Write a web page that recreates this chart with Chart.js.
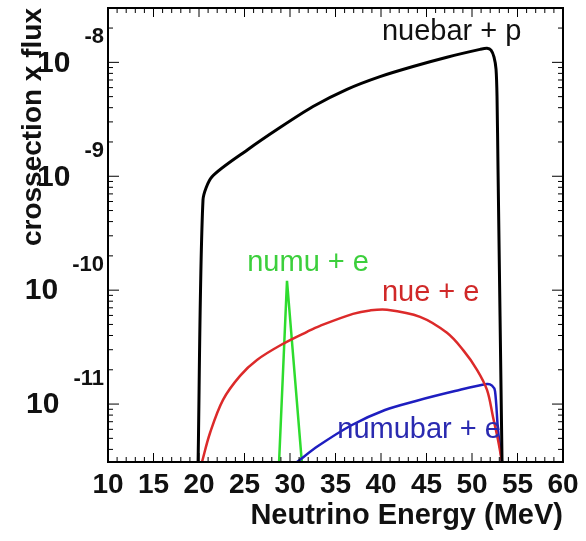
<!DOCTYPE html>
<html>
<head>
<meta charset="utf-8">
<script src="https://cdn.jsdelivr.net/npm/chart.js@4"></script>
<style>
  html, body { margin: 0; padding: 0; background: #fff; }
  #wrap { width: 586px; height: 541px; }
</style>
</head>
<body>
<div id="wrap"><canvas id="chart"></canvas></div>
<script>
// energy (MeV) and crossection x flux
const nuebarE    = [19.9, 20.44, 21.43, 25.38, 28.9, 32.53, 36.26, 39.89, 43.52, 47.25, 50.88, 51.65, 52.09, 52.42, 52.64, 52.75, 52.86, 53.3];
const nuebarFlux = [3.1e-12, 6.2e-10, 9.9e-10, 1.72e-9, 2.68e-9, 4.1e-9, 5.8e-9, 7.5e-9, 9.2e-9, 1.11e-8, 1.30e-8, 1.33e-8, 1.28e-8, 1.11e-8, 8.7e-9, 5.0e-9, 1.15e-9, 3.1e-12];

const nueE    = [20.33, 21.21, 22.64, 24.51, 26.37, 29.23, 31.87, 33.3, 36.92, 38.79, 40.66, 44.29, 47.25, 49.01, 50.55, 51.65, 52.31, 52.86, 53.3];
const nueFlux = [3.1e-12, 5.57e-12, 1.09e-11, 1.77e-11, 2.44e-11, 3.38e-11, 4.31e-11, 4.86e-11, 6.19e-11, 6.64e-11, 6.73e-11, 5.83e-11, 4.22e-11, 2.99e-11, 2.0e-11, 1.33e-11, 7.7e-12, 4.83e-12, 3.1e-12];

const numuE    = [28.8, 29.67, 31.3];
const numuFlux = [3.1e-12, 1.21e-10, 3.1e-12];

const numubarE    = [30.77, 33.08, 36.81, 40.44, 43.74, 48.13, 51.65, 52.2, 52.53, 52.86, 53.3];
const numubarFlux = [3.1e-12, 4.28e-12, 6.55e-12, 8.87e-12, 1.06e-11, 1.30e-11, 1.50e-11, 1.45e-11, 1.30e-11, 5.9e-12, 3.1e-12];

const xTicks = [10, 15, 20, 25, 30, 35, 40, 45, 50, 55, 60];
const yExponents = [-8, -9, -10, -11];

// curve labels (in data units)
const notes = [
  { text: 'nuebar + p',  e: 40.1,  f: 1.84e-8, color: '#111111' },
  { text: 'numu + e',    e: 25.3,  f: 1.74e-10, color: '#3ccf3c' },
  { text: 'nue + e',     e: 40.1,  f: 9.5e-11, color: '#d02828' },
  { text: 'numubar + e', e: 35.2,  f: 5.9e-12, color: '#2a2ab0' }
];

const FONT = 'Liberation Sans, Arial, sans-serif';
Chart.defaults.font.family = FONT;

const pts = (xs, ys) => xs.map((x, i) => ({ x, y: ys[i] }));
const ds = (xs, ys, color, w, tension) => ({
  data: pts(xs, ys), borderColor: color, borderWidth: w,
  pointRadius: 0, fill: false, tension
});

const line = (ctx, x1, y1, x2, y2) => { ctx.beginPath(); ctx.moveTo(x1, y1); ctx.lineTo(x2, y2); ctx.stroke(); };

const frame = {
  id: 'frame',
  afterDatasetsDraw(chart) {
    const { ctx, chartArea: a, scales: { x, y } } = chart;
    ctx.save();
    ctx.strokeStyle = '#000';
    ctx.lineWidth = 1;

    for (let v = 10; v <= 60; v++) {
      const px = x.getPixelForValue(v);
      const len = v % 5 === 0 ? 9 : 5;
      line(ctx, px, a.bottom, px, a.bottom - len);
      line(ctx, px, a.top, px, a.top + len);
    }
    for (let n = -12; n <= -7; n++) {
      for (let k = 1; k < 10; k++) {
        const v = k * Math.pow(10, n);
        if (v < y.min || v > y.max) continue;
        const py = y.getPixelForValue(v);
        const len = k === 1 ? 11 : 5;
        line(ctx, a.left, py, a.left + len, py);
        line(ctx, a.right, py, a.right - len, py);
      }
    }
    ctx.lineWidth = 2;
    ctx.strokeRect(a.left, a.top, a.right - a.left, a.bottom - a.top);

    // y labels as 10 with exponent
    ctx.fillStyle = '#111';
    ctx.textAlign = 'right';
    ctx.textBaseline = 'middle';
    yExponents.forEach(n => {
      const py = y.getPixelForValue(Math.pow(10, n));
      const exp = String(n);
      ctx.font = 'bold 22px ' + FONT;
      ctx.fillText(exp, 104, py - 25);
      const w = ctx.measureText(exp).width;
      ctx.font = 'bold 30px ' + FONT;
      ctx.fillText('10', 104 - w - 14, py + 1);
    });

    ctx.textAlign = 'left';
    ctx.font = '29px ' + FONT;
    notes.forEach(t => {
      ctx.fillStyle = t.color;
      ctx.fillText(t.text, x.getPixelForValue(t.e), y.getPixelForValue(t.f));
    });
    ctx.restore();
  }
};

new Chart(document.getElementById('chart'), {
  type: 'line',
  data: {
    datasets: [
      ds(nuebarE, nuebarFlux, '#000000', 3, 0.25),
      ds(nueE, nueFlux, '#dc2a2a', 2.5, 0.35),
      ds(numubarE, numubarFlux, '#1e1ec0', 2.5, 0.3),
      ds(numuE, numuFlux, '#2edc2e', 2.5, 0)
    ]
  },
  options: {
    responsive: true, maintainAspectRatio: false, animation: false,
    layout: { padding: { top: 8, right: 23, left: 0, bottom: 0 } },
    plugins: { legend: { display: false }, tooltip: { enabled: false } },
    scales: {
      x: {
        type: 'linear', min: 10, max: 60,
        afterBuildTicks: s => { s.ticks = xTicks.map(v => ({ value: v })); },
        afterFit: s => { s.height = 79; },
        grid: { display: false, drawTicks: false },
        border: { display: false },
        ticks: { autoSkip: false, maxRotation: 0, padding: 6, color: '#111', font: { size: 28, weight: 'bold' } },
        title: { display: true, text: 'Neutrino Energy (MeV)', align: 'end', color: '#111', font: { size: 29, weight: 'bold' }, padding: { top: 0, bottom: 8 } }
      },
      y: {
        type: 'logarithmic', min: 3.1e-12, max: 3.0e-8,
        afterFit: s => { s.width = 108; },
        grid: { display: false, drawTicks: false },
        border: { display: false },
        ticks: { display: false },
        title: { display: true, text: 'crossection x flux', align: 'end', color: '#111', font: { size: 28, weight: 'bold' }, padding: { top: 16, bottom: 0 } }
      }
    }
  },
  plugins: [frame]
});
</script>
</body>
</html>
